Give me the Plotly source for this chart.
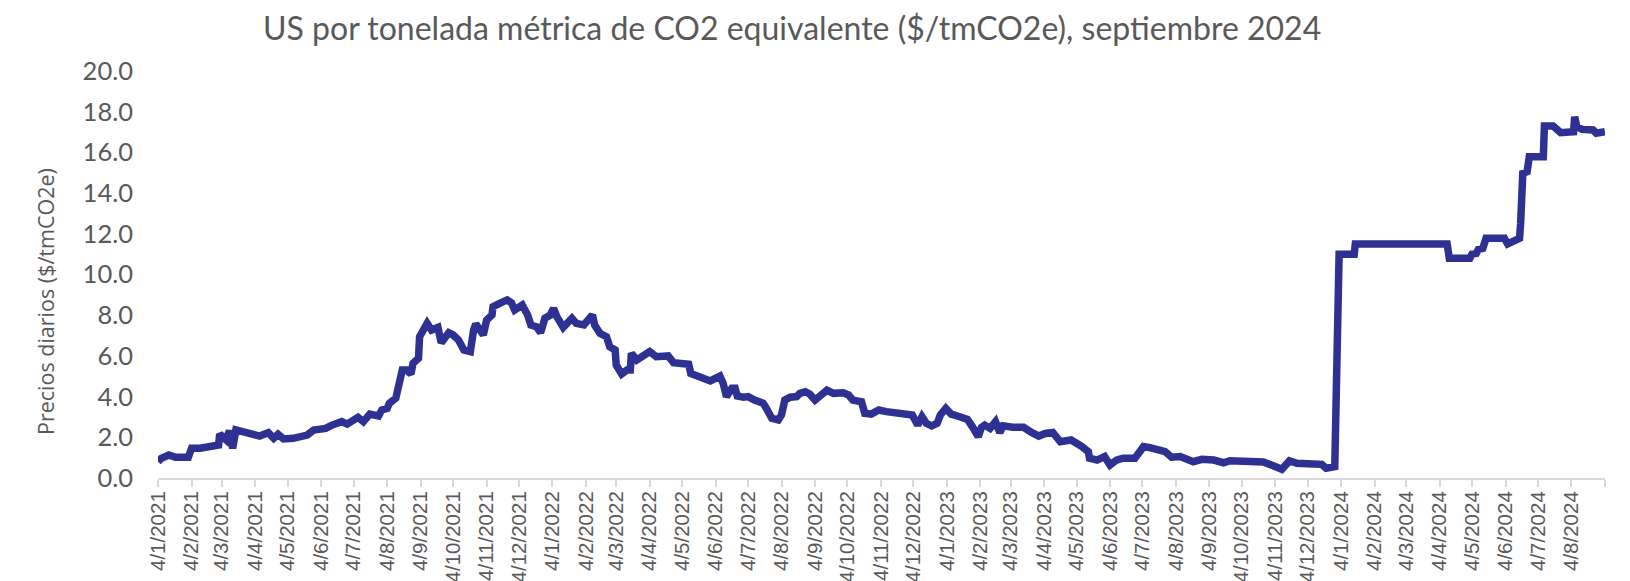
import pandas as pd
import plotly.graph_objects as go

# ---- data ----
start_date = "2021-01-04"
end_date = "2024-09-04"

dias = [0, 3, 10, 16, 28, 31, 39, 51, 56, 57, 60, 63, 66, 69, 72, 82, 94, 102, 107, 111,
        116, 125, 138, 144, 155, 161, 170, 175, 185, 190, 196, 204, 207, 212, 214, 220, 222,
        226, 230, 234, 236, 241, 242, 246, 249, 253, 259, 262, 266, 269, 273, 278, 283, 289,
        292, 294, 301, 304, 309, 310, 316, 323, 327, 330, 337, 342, 345, 350, 354, 358, 363,
        366, 369, 375, 383, 387, 394, 398, 402, 404, 409, 415, 418, 423, 424, 429, 434, 437,
        438, 443, 446, 455, 461, 472, 477, 486, 491, 493, 498, 511, 520, 523, 526, 531, 534,
        536, 542, 546, 552, 560, 563, 568, 574, 577, 580, 585, 591, 594, 599, 603, 608, 613,
        619, 625, 634, 639, 643, 651, 654, 660, 667, 674, 684, 693, 698, 703, 707, 711, 716,
        721, 724, 729, 734, 742, 749, 754, 759, 762, 765, 770, 775, 779, 782, 791, 801, 808,
        815, 821, 828, 835, 845, 855, 861, 862, 869, 876, 881, 887, 893, 904, 912, 918, 924,
        932, 938, 946, 958, 966, 977, 986, 992, 1007, 1023, 1032, 1040, 1047, 1054, 1069, 1077,
        1081, 1089, 1093, 1107, 1108, 1193, 1195, 1214, 1216, 1220, 1222, 1226, 1229, 1246,
        1249, 1254, 1260, 1261, 1263, 1267, 1269, 1282, 1283, 1291, 1298, 1310, 1311, 1313,
        1318, 1328, 1331, 1339]

precios = [0.80, 0.97, 1.13, 1.02, 1.02, 1.46, 1.46, 1.54, 1.62, 2.16, 2.03, 1.87, 2.32, 1.46,
           2.36, 2.19, 2.06, 2.23, 1.95, 2.15, 1.92, 1.95, 2.11, 2.36, 2.44, 2.60, 2.77, 2.65,
           2.98, 2.77, 3.14, 3.05, 3.34, 3.42, 3.67, 3.92, 4.49, 5.31, 5.31, 5.11, 5.64, 5.88,
           6.94, 7.36, 7.60, 7.27, 7.40, 6.65, 6.86, 7.14, 7.03, 6.78, 6.29, 6.21, 7.27, 7.57,
           7.03, 7.76, 8.01, 8.42, 8.58, 8.75, 8.61, 8.26, 8.50, 8.01, 7.52, 7.44, 7.14, 7.85,
           8.01, 8.34, 7.93, 7.40, 7.85, 7.60, 7.52, 7.76, 8.01, 7.52, 7.11, 6.94, 6.45, 6.29,
           5.55, 5.11, 5.31, 5.31, 6.13, 5.80, 5.93, 6.21, 5.96, 6.00, 5.67, 5.64, 5.59, 5.14,
           5.06, 4.77, 5.01, 4.65, 4.00, 4.41, 4.41, 4.03, 3.97, 4.00, 3.83, 3.67, 3.42, 2.93,
           2.85, 3.10, 3.83, 3.97, 4.00, 4.16, 4.24, 4.13, 3.83, 4.08, 4.32, 4.16, 4.19, 4.08,
           3.83, 3.75, 3.18, 3.14, 3.34, 3.26, 3.18, 3.14, 3.10, 2.60, 3.01, 2.69, 2.56, 2.69,
           3.10, 3.42, 3.14, 3.01, 2.88, 2.49, 2.03, 2.49, 2.60, 2.44, 2.77, 2.23, 2.56, 2.49,
           2.49, 2.25, 2.06, 2.19, 2.24, 1.78, 1.87, 1.54, 1.29, 0.97, 0.88, 1.05, 0.64, 0.88,
           0.97, 0.97, 1.54, 1.49, 1.38, 1.29, 1.02, 1.05, 0.80, 0.92, 0.88, 0.75, 0.85, 0.80,
           0.79, 0.60, 0.43, 0.84, 0.72, 0.69, 0.67, 0.48, 0.56, 11.00, 11.00, 11.50, 11.50,
           10.80, 10.80, 11.00, 11.04, 11.24, 11.29, 11.78, 11.78, 11.50, 11.61, 11.78, 12.52,
           14.97, 15.05, 15.79, 15.79, 17.30, 17.30, 16.97, 17.02, 17.75, 17.26, 17.13, 17.10,
           16.94, 17.02]

y_ticks = [0, 2, 4, 6, 8, 10, 12, 14, 16, 18, 20]

titulo = "US por tonelada métrica de CO2 equivalente ($/tmCO2e), septiembre 2024"
titulo_y = "Precios diarios ($/tmCO2e)"

# ---- derived ----
fechas = pd.Timestamp(start_date) + pd.to_timedelta(dias, unit="D")
# ticks on the 4th day of every month, 4/1/2021 .. 4/9/2024
tick_dates = pd.date_range("2021-01-01", "2024-09-01", freq="MS") + pd.Timedelta(days=3)
tick_text = [f"{d.day}/{d.month}/{d.year}" for d in tick_dates]
tick_text[-1] = ""  # final tick at axis end carries no label

GRAY = "#595959"

fig = go.Figure()
fig.add_trace(go.Scatter(
    x=fechas, y=precios, mode="lines",
    line=dict(color="#2E3192", width=7.5),
    hoverinfo="x+y", showlegend=False,
))

# The page body adds an 8px offset; compensate so the plot area sits at
# x 158..1605 and y 71..478 of the 1630x581 window.
OFF = 8
W, H = 1630 - OFF, 581 - OFF
L, R, T, B = 158 - OFF, 25, 71 - OFF, 103
pw, ph = W - L - R, H - T - B
pad = pd.Timedelta(hours=2)


def px_x(x_page):
    return (x_page - 158) / pw


def px_y(y_page):
    return (478 - y_page) / ph


fig.update_layout(
    width=W, height=H,
    margin=dict(l=L, r=R, t=T, b=B),
    paper_bgcolor="white", plot_bgcolor="white",
    showlegend=False,
    xaxis=dict(
        type="date", automargin=False,
        range=[pd.Timestamp(start_date) - pad, pd.Timestamp(end_date) + pad],
        tickvals=list(tick_dates), ticktext=tick_text,
        tickangle=-90, ticklabeloverflow="allow",
        tickfont=dict(family="Liberation Sans, Arial", size=20.5, color=GRAY),
        showline=True, linecolor="#d9d9d9", linewidth=2,
        ticks="outside", ticklen=7, tickwidth=2, tickcolor="#d9d9d9",
        ticklabelstandoff=-4,
        showgrid=False, zeroline=False,
    ),
    yaxis=dict(
        range=[0, 20], automargin=False,
        tickvals=y_ticks, tickformat=".1f",
        tickfont=dict(family="Lato", size=25.5, color=GRAY),
        showline=False, showgrid=False, zeroline=False,
        ticks="", ticklabelstandoff=24,
    ),
    annotations=[
        dict(text=titulo, xref="paper", yref="paper",
             x=px_x(792), y=px_y(27),
             xanchor="center", yanchor="middle", showarrow=False,
             font=dict(family="Lato", size=32, color=GRAY)),
        dict(text=titulo_y, xref="paper", yref="paper",
             x=px_x(45), y=px_y(301),
             xanchor="center", yanchor="middle", showarrow=False, textangle=-90,
             font=dict(family="Open Sans", size=21.5, color=GRAY)),
    ],
)

fig.write_html("out.html")
